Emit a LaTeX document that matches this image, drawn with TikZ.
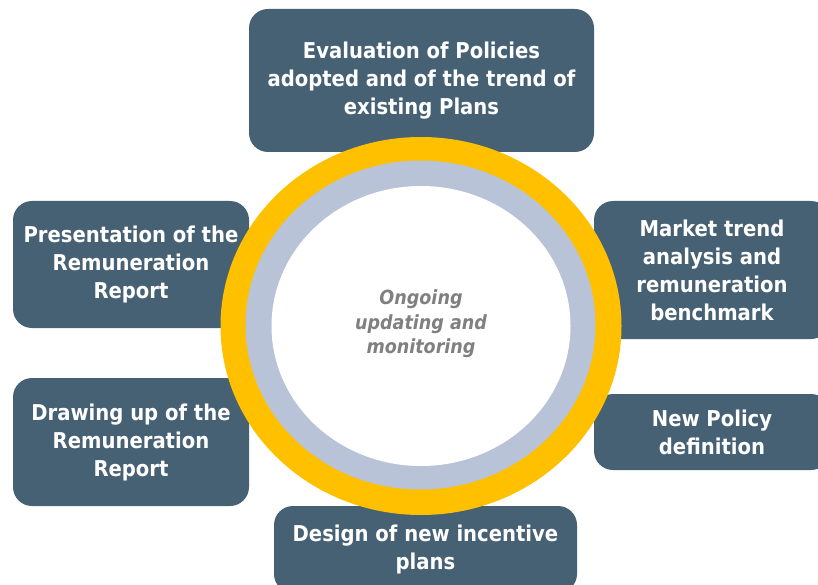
\documentclass[tikz,border=0pt]{standalone}
\usepackage{fontspec}
\setmainfont{DejaVu Sans Condensed}
\definecolor{stageblue}{HTML}{466173}
\definecolor{ringyellow}{HTML}{FFC000}
\definecolor{ringgrey}{HTML}{B8C3D8}
\definecolor{hubtext}{HTML}{808080}
\begin{document}
\begin{tikzpicture}[x=1pt,y=-1pt,
  stage/.style={fill=stageblue, rounded corners=19pt, text=white,
    font=\bfseries\fontsize{21.8}{28}\selectfont, align=center, inner sep=0pt},
  hubstyle/.style={text=hubtext, font=\bfseries\itshape\fontsize{19.5}{24.5}\selectfont,
    align=center, inner sep=0pt}]
\useasboundingbox (0,0) rectangle (818,585);
\clip (0,0) rectangle (818,585);

% stages of the cycle
\node[stage, minimum width=345pt, minimum height=143pt] (evaluation) at (421.5,80.5)
  {Evaluation of Policies\\adopted and of the trend of\\existing Plans};
\node[stage, minimum width=236pt, minimum height=138pt] (market) at (712,270)
  {Market trend\\analysis and\\remuneration\\benchmark};
\node[stage, minimum width=236pt, minimum height=76pt] (policy) at (712,432)
  {New Policy\\definition};
\node[stage, minimum width=303pt, minimum height=87pt] (design) at (425.5,549.5)
  {Design of new incentive\\plans};
\node[stage, minimum width=236pt, minimum height=128pt] (drawing) at (131,442)
  {Drawing up of the\\Remuneration\\Report};
\node[stage, minimum width=236pt, minimum height=127pt] (presentation) at (131,264.5)
  {Presentation of the\\Remuneration\\Report};

% central ring
\fill[ringyellow] (421,326) ellipse [x radius=200.5pt, y radius=189pt];
\fill[ringgrey] (420.5,325) ellipse [x radius=175pt, y radius=164.5pt];
\fill[white] (421,326) ellipse [x radius=149.5pt, y radius=140pt];

\node[hubstyle] (hub) at (421,324) {Ongoing\\updating and\\monitoring};
\end{tikzpicture}
\end{document}
